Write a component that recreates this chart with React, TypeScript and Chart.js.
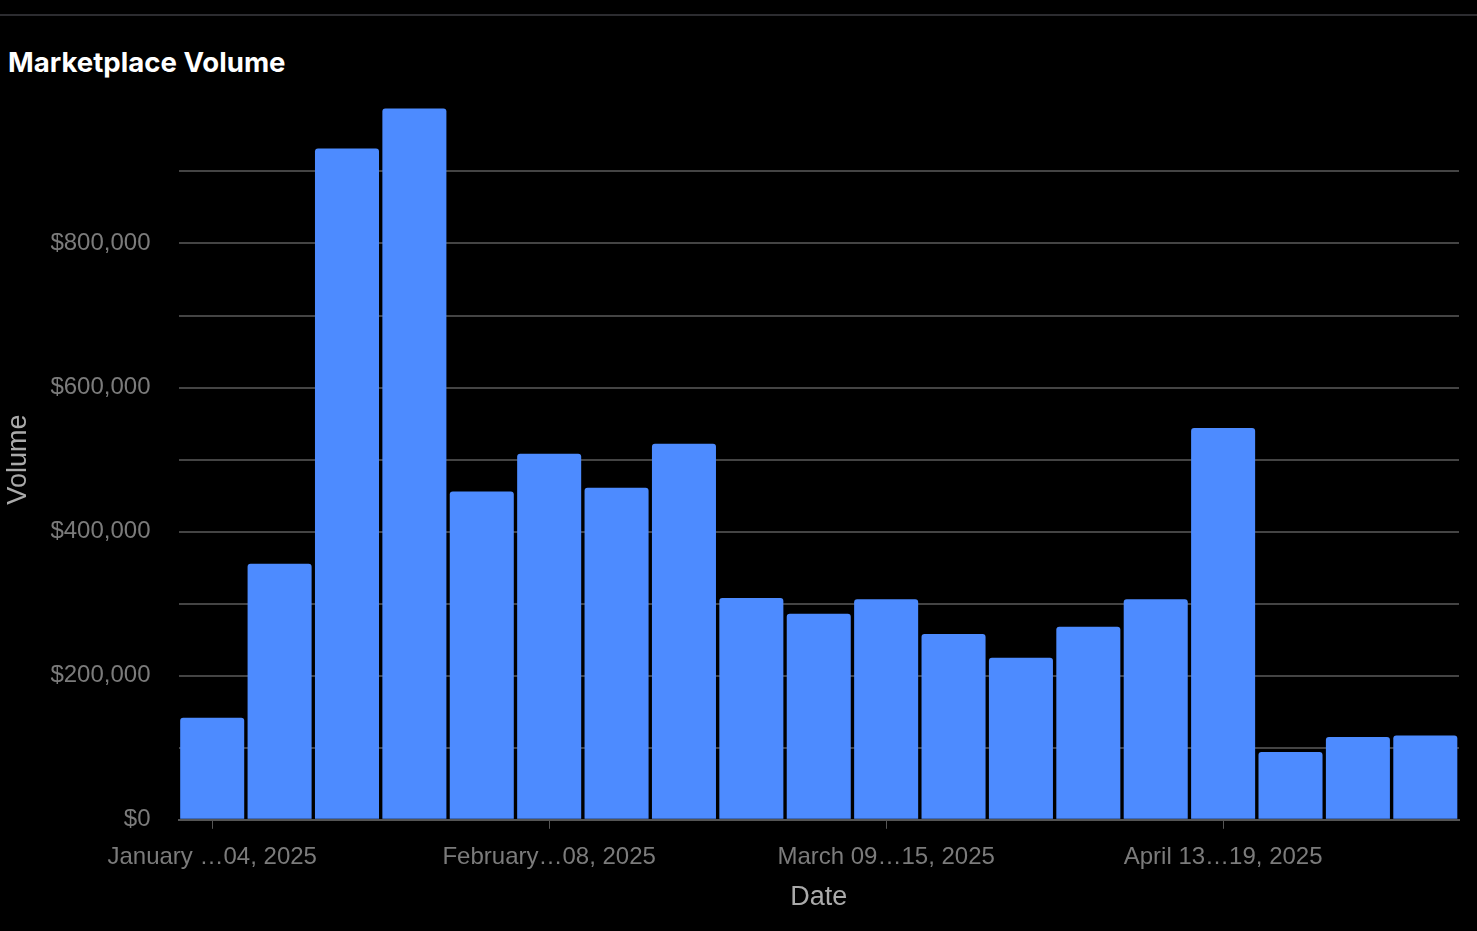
import React, { useEffect, useRef } from "react";
import { Chart, registerables } from "chart.js";

Chart.register(...registerables);

const weeks = [
  "January …04, 2025",
  "January …11, 2025",
  "January …18, 2025",
  "January …25, 2025",
  "January …01, 2025",
  "February…08, 2025",
  "February…15, 2025",
  "February…22, 2025",
  "February…01, 2025",
  "March 02…08, 2025",
  "March 09…15, 2025",
  "March 16…22, 2025",
  "March 23…29, 2025",
  "March 30…05, 2025",
  "April 06…12, 2025",
  "April 13…19, 2025",
  "April 20…26, 2025",
  "April 27…03, 2025",
  "May 04…10, 2025",
];

const volume = [
  141700, 355600, 932000, 987500, 455600, 508000, 461000, 522000, 308000,
  286000, 306000, 258000, 225000, 268000, 306000, 544000, 94000, 115000,
  117000,
];

const tickFont = { family: "'Liberation Sans', Arial, sans-serif", size: 24 };
const titleFont = { family: "'Liberation Sans', Arial, sans-serif", size: 27 };

const money = (v: number) => "$" + v.toLocaleString("en-US");

const VolumeChart = () => {
  const chartRef = useRef<HTMLCanvasElement>(null);

  useEffect(() => {
    if (!chartRef.current) return;
    const chart = new Chart(chartRef.current, {
      type: "bar",
      data: {
        labels: weeks,
        datasets: [
          {
            label: "Volume",
            data: volume,
            backgroundColor: "#4d8bff",
            borderRadius: 3,
            borderSkipped: "bottom",
            barPercentage: 0.95,
            categoryPercentage: 1,
          },
        ],
      },
      options: {
        animation: false,
        responsive: true,
        maintainAspectRatio: false,
        layout: { padding: { top: 9, right: 18, bottom: 17, left: 2 } },
        plugins: {
          legend: { display: false },
          tooltip: { enabled: false },
        },
        scales: {
          x: {
            grid: {
              offset: false,
              drawOnChartArea: false,
              tickColor: "#555",
              tickLength: 9,
            },
            border: { color: "#555", width: 2 },
            ticks: {
              color: "#7b7b7b",
              font: tickFont,
              autoSkip: true,
              maxTicksLimit: 4,
              maxRotation: 0,
              padding: 14,
            },
            title: {
              display: true,
              text: "Date",
              color: "#aaaaaa",
              font: titleFont,
              padding: { top: -4, bottom: 0 },
            },
          },
          y: {
            min: 0,
            max: 1000000,
            grid: {
              color: (ctx) =>
                ctx.tick && ctx.tick.value === 1000000 ? "rgba(0,0,0,0)" : "#444",
              lineWidth: 2,
              drawTicks: false,
            },
            border: { display: false },
            ticks: {
              stepSize: 100000,
              color: "#7b7b7b",
              font: tickFont,
              padding: 28,
              callback: (v) => {
                const n = Number(v);
                return n % 200000 === 0 && n < 1000000 ? money(n) : "";
              },
            },
            title: {
              display: true,
              text: "Volume",
              color: "#aaaaaa",
              font: titleFont,
              padding: { top: 0, bottom: -12 },
            },
          },
        },
      },
    });
    return () => {
      chart.destroy();
    };
  }, []);

  return <canvas ref={chartRef} />;
};

export default function App() {
  useEffect(() => {
    document.body.style.margin = "0";
    document.body.style.background = "#000";
  }, []);

  return (
    <div
      style={{
        position: "relative",
        width: 1477,
        height: 931,
        background: "#000",
        overflow: "hidden",
      }}
    >
      <div
        style={{
          position: "absolute",
          top: 14,
          left: 0,
          right: 0,
          borderTop: "2px solid #2c2c30",
        }}
      />
      <div
        style={{
          position: "absolute",
          top: 44,
          left: 8,
          color: "#fff",
          fontFamily: "Inter, 'Liberation Sans', sans-serif",
          fontWeight: 700,
          fontSize: 27.6,
          lineHeight: "36px",
        }}
      >
        Marketplace Volume
      </div>
      <div
        style={{
          position: "absolute",
          top: 57,
          left: 0,
          width: 1477,
          height: 874,
        }}
      >
        <VolumeChart />
      </div>
    </div>
  );
}
